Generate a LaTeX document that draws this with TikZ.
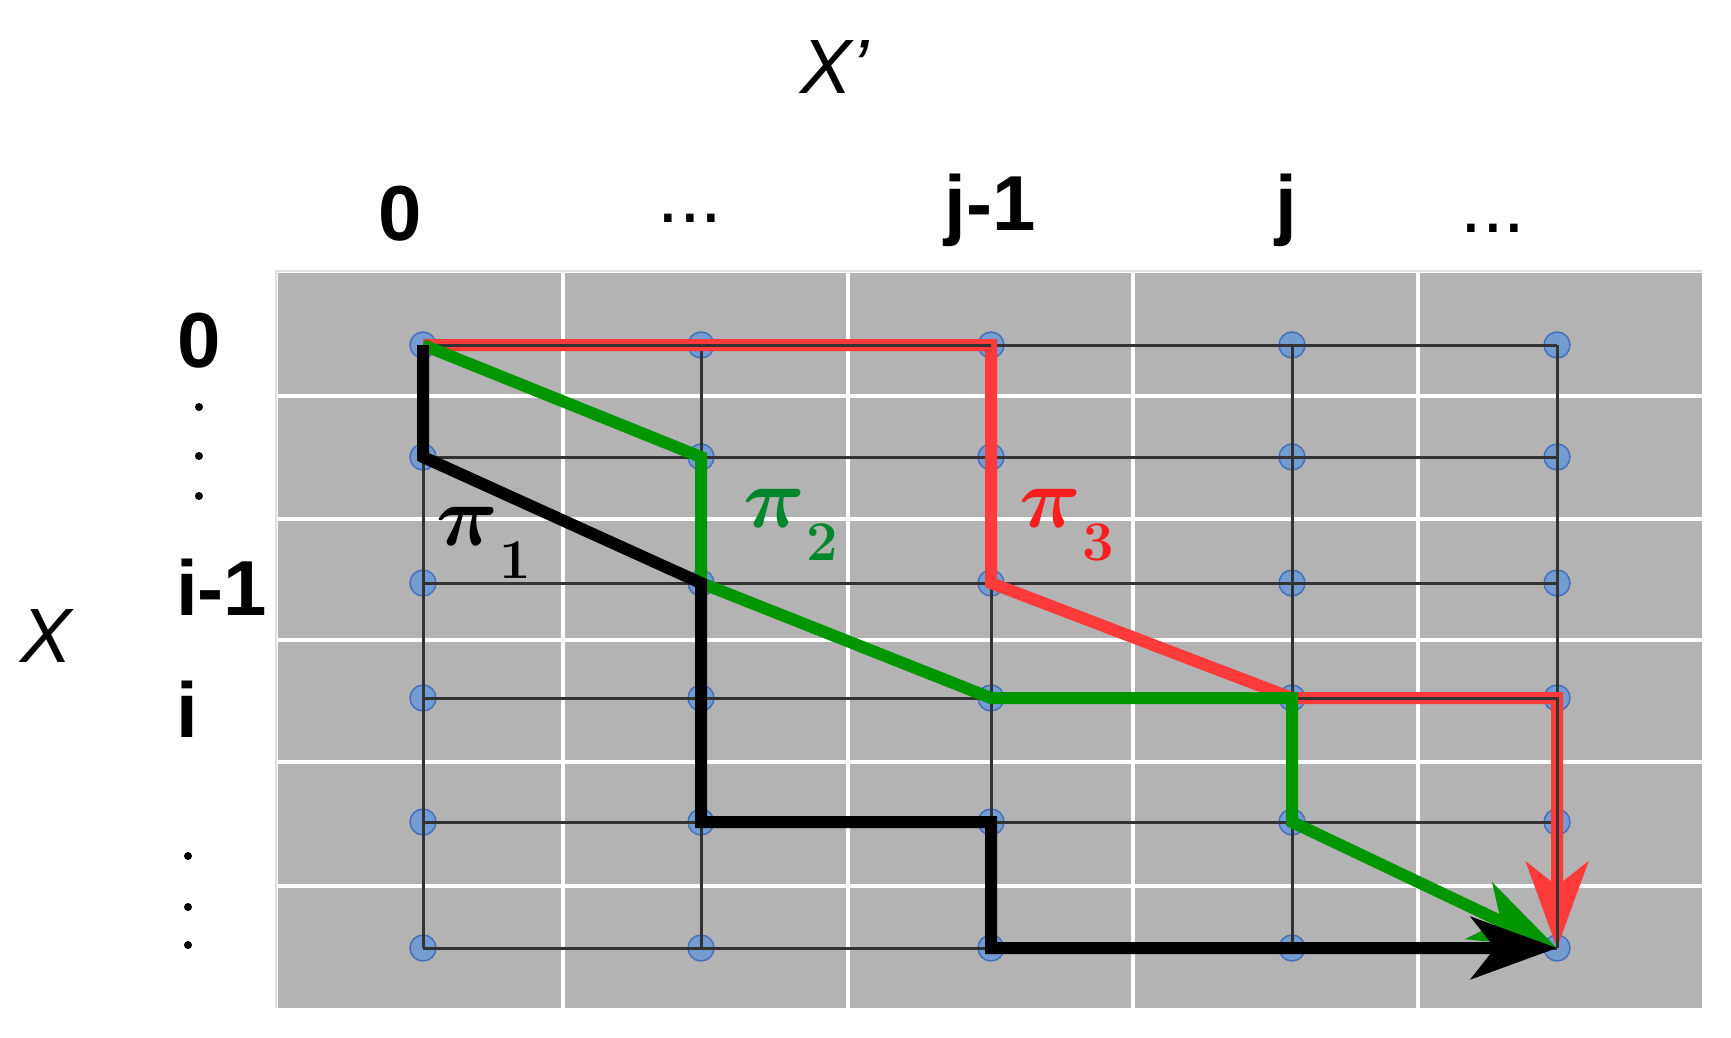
\RequirePackage{fix-cm}
\documentclass[tikz,border=0pt]{standalone}
\usepackage{amsmath}
\usepackage[no-math]{fontspec}
\setmainfont{Liberation Sans}
\usetikzlibrary{arrows.meta}
\definecolor{bggray}{RGB}{179,179,179}
\definecolor{ptblue}{RGB}{105,152,215}
\definecolor{ptedge}{RGB}{70,112,185}
\definecolor{pgreen}{RGB}{0,150,0}
\definecolor{pred}{RGB}{255,58,58}
\definecolor{tgreen}{RGB}{0,135,45}
\definecolor{tred}{RGB}{250,30,30}
\newcommand{\pisub}[1]{$\boldsymbol{\pi}$\kern1pt\raisebox{-33pt}{\fontsize{56}{56}\selectfont$\mathbf{#1}$}}
\begin{document}
\begin{tikzpicture}[x=1pt,y=-1pt,
  gridpt/.style={circle, draw=ptedge, fill=ptblue, fill opacity=0.85, line width=1.5pt, minimum size=26pt, inner sep=0pt},
  gridline/.style={draw=black!80, line width=3pt},
  pathline/.style={line width=12pt, line join=miter},
  tipstyle/.style={-{Stealth[length=86pt,width=62pt,inset=24pt]}},
  lab/.style={font=\fontsize{78}{80}\selectfont\bfseries, inner sep=0pt},
  dotlab/.style={font=\fontsize{78}{80}\selectfont, inner sep=0pt},
  axislab/.style={font=\fontsize{77}{80}\selectfont\itshape, inner sep=0pt},
  pilab/.style={font=\fontsize{86}{90}\selectfont, inner sep=0pt}
]
\useasboundingbox (0,0) rectangle (1731,1037);
\fill[white] (0,0) rectangle (1731,1037);

% background cells
\draw[black!12, line width=2pt] (276,1008) -- (276,271) -- (1702,271);
\fill[bggray] (278,273) rectangle (1702,1008);
\foreach \x in {563,848,1133,1418} \draw[white, line width=3.5pt] (\x,273) -- (\x,1008);
\foreach \y in {396,519,640,762,886} \draw[white, line width=3.5pt] (278,\y) -- (1702,\y);

% grid points
\foreach \r/\y in {0/345,1/457,2/583,3/698,4/822,5/948}
  \foreach \c/\x in {0/423,1/701,2/991,3/1292,4/1557}
    \node[gridpt] (n\r\c) at (\x,\y) {};

% grid lines
\foreach \r in {0,...,5} \draw[gridline] (n\r0.center) -- (n\r4.center);
\foreach \c in {0,...,4} \draw[gridline] (n0\c.center) -- (n5\c.center);

% pi_3 (red)
\draw[pathline, pred, tipstyle] (n00.center) -- (n02.center) -- (n22.center) -- (n33.center) -- (n34.center) -- (n54.center);
\draw[gridline] (n00.center) -- (n02.center);
\draw[gridline] (n33.center) -- (n34.center) -- (n54.center);

% pi_2 (green)
\draw[pathline, pgreen, tipstyle] (n00.center) -- (n11.center) -- (n21.center) -- (n32.center) -- (n33.center) -- (n43.center) -- (n54.center);

% pi_1 (black)
\draw[pathline, black, tipstyle] (n00.center) -- (n10.center) -- (n21.center) -- (n41.center) -- (n42.center) -- (n52.center) -- (n54.center);

% path labels
\node[pilab, anchor=base west, text=black] (p1) at (436,545) {\pisub{1}};
\node[pilab, anchor=base west, text=tgreen] (p2) at (743,527) {\pisub{2}};
\node[pilab, anchor=base west, text=tred] (p3) at (1019,527) {\pisub{3}};

% axis titles
\node[axislab, anchor=base west] (xp) at (800,93) {X’};
\node[axislab, anchor=base west] (xx) at (20,662) {X};

% column labels
\node[lab, anchor=base] (c0) at (400,240) {0};
\node[dotlab, anchor=base] (c1) at (690,222) {...};
\node[lab, anchor=base] (c2) at (990,230) {j-1};
\node[lab, anchor=base] (c3) at (1286,230) {j};
\node[dotlab, anchor=base] (c4) at (1493,232) {...};

% row labels
\node[lab, anchor=base west] (r0) at (177,367) {0};
\node[lab, anchor=base west] (r2) at (176,615) {i-1};
\node[lab, anchor=base west] (r3) at (176,737) {i};

% vertical ellipses
\foreach \px/\py in {199/407,199/456,199/496,188/856,188/907,188/945}
  \fill[black] (\px,\py) circle[radius=4pt];
\end{tikzpicture}
\end{document}
